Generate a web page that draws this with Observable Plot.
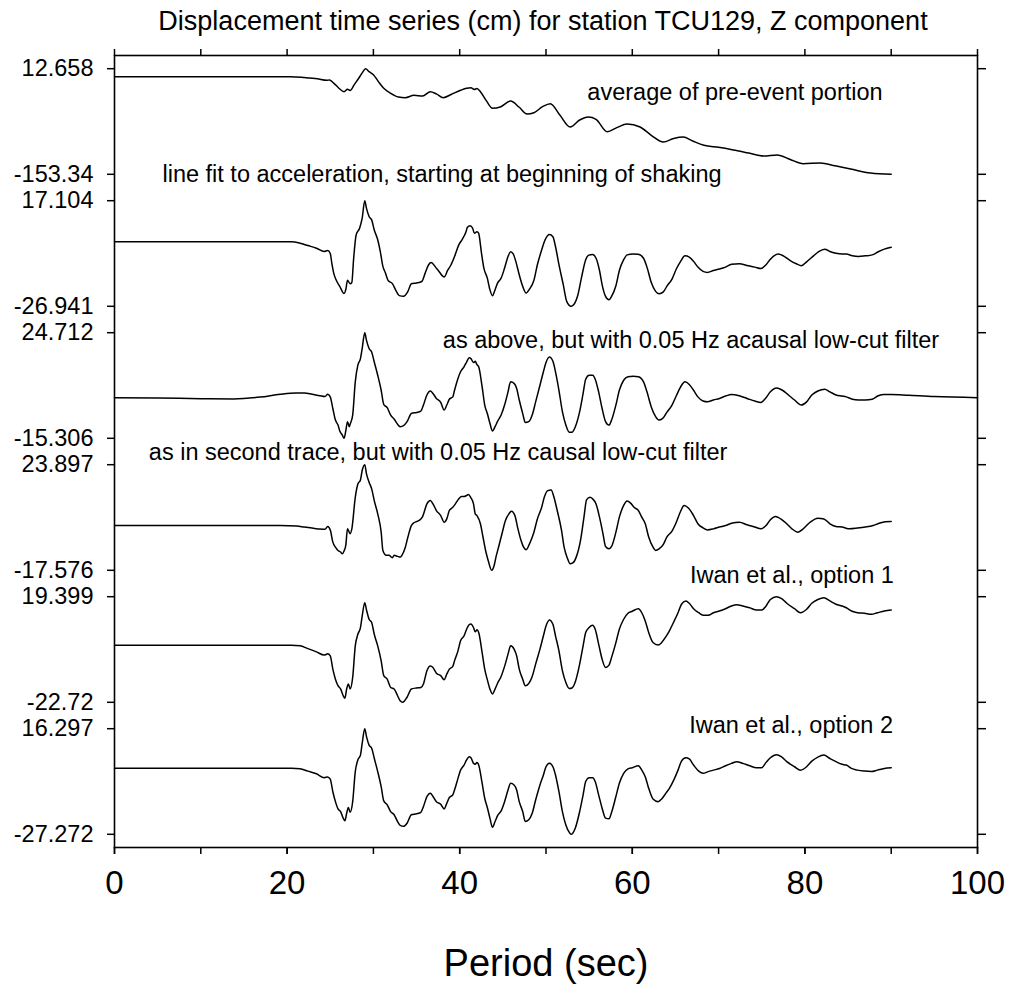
<!DOCTYPE html>
<html>
<head>
<meta charset="utf-8">
<script src="https://cdn.jsdelivr.net/npm/d3@7"></script>
<script src="https://cdn.jsdelivr.net/npm/@observablehq/plot@0.6"></script>
<style>
  html, body { margin: 0; padding: 0; background: #fff; }
</style>
</head>
<body>
<div id="chart"></div>
<script>
// ---- Data (time in sec, displacement in cm) ----
const titleText = "Displacement time series (cm) for station TCU129, Z component";
const xAxisTitle = "Period (sec)";
const traceLabels = [
  "average of pre-event portion",
  "line fit to acceleration, starting at beginning of shaking",
  "as above, but with 0.05 Hz acausal low-cut filter",
  "as in second trace, but with 0.05 Hz causal low-cut filter",
  "Iwan et al., option 1",
  "Iwan et al., option 2"
];
const yMaxLabels = [12.658, 17.104, 24.712, 23.897, 19.399, 16.297];
const yMinLabels = [-153.34, -26.941, -15.306, -17.576, -22.72, -27.272];
const xTicks = [0, 10, 20, 30, 40, 50, 60, 70, 80, 90, 100];
const xLabelTicks = [0, 20, 40, 60, 80, 100];

const trace1 = [[0,0],[10,0],[20.4,0],[22,-1.3],[23.5,-3.2],[24.6,-5.6],[24.9,-5.0],[25.4,-10],[26,-18],[26.6,-23.5],[27.0,-19.7],[27.3,-21.6],[27.8,-12],[28.3,-2.4],[28.7,6],[29.1,12.658],[29.5,8],[30.0,3.3],[30.6,-8],[31.2,-18.1],[32.0,-26],[32.9,-31.8],[33.7,-32.9],[34.7,-29.2],[35.7,-30.3],[36.6,-23.5],[37.3,-27],[38.1,-32.9],[39.0,-28],[40.1,-21.3],[40.8,-18],[41.3,-17.2],[41.7,-20],[42.0,-18.5],[42.4,-23.5],[43.1,-38],[43.8,-49.6],[44.7,-47.6],[45.9,-38.1],[46.9,-48],[47.8,-58.5],[48.6,-56.5],[49.6,-47],[50.5,-42.3],[51.6,-60],[52.8,-79.0],[53.9,-68],[54.9,-63.3],[55.8,-66.9],[57.1,-86.4],[58.2,-80],[59.4,-74.3],[60.9,-79.0],[62.2,-92],[63.6,-102.6],[64.8,-97],[65.9,-94.7],[67.0,-101],[68.3,-107.7],[70.0,-111],[71.7,-115.1],[73.5,-120],[75.2,-124.6],[76.8,-123.0],[78.3,-130],[79.8,-136.7],[81.8,-135.6],[83.5,-140],[85.3,-145.0],[87.6,-151.3],[90,-153.34]];

const trace2 = [[0,0],[10,0],[20.5,0],[21.5,-0.6],[22.4,-1.6],[23.4,-2.7],[24.3,-4.1],[24.7,-3.7],[25.0,-4.9],[25.2,-9.4],[25.4,-13.1],[25.7,-16.1],[26.1,-18.6],[26.6,-21.6],[26.8,-20.0],[27.0,-16.1],[27.3,-17.5],[27.5,-17.0],[27.7,-7.5],[28.0,2.8],[28.4,5.6],[28.7,9.8],[29.0,17.104],[29.2,13.9],[29.5,10.5],[29.8,9.1],[30.1,4.9],[30.5,0.8],[30.8,-4.1],[31.1,-10.3],[31.4,-13.1],[31.7,-16.1],[32.2,-17.5],[32.6,-20.3],[33.0,-22.5],[33.5,-22.8],[34.0,-20.7],[34.4,-17.5],[35.0,-17.2],[35.6,-16.6],[36.0,-13.1],[36.4,-9.6],[36.7,-8.7],[37.2,-10.6],[37.6,-12.4],[38.2,-14.7],[38.6,-12.0],[39.0,-9.6],[39.4,-6.2],[39.9,-1.3],[40.3,1.0],[40.7,3.8],[40.9,6.0],[41.2,6.7],[41.5,5.6],[41.7,3.5],[42.0,4.2],[42.2,3.5],[42.5,-4.1],[42.8,-11.0],[43.2,-15.2],[43.5,-20.0],[43.8,-22.5],[44.1,-20.0],[44.4,-17.2],[44.8,-15.2],[45.2,-11.0],[45.6,-6.2],[45.9,-4.2],[46.2,-5.1],[46.5,-8.2],[46.9,-13.8],[47.3,-18.6],[47.7,-21.4],[48.1,-19.7],[48.6,-16.1],[49.0,-9.6],[49.5,-3.4],[49.9,0.8],[50.4,3.0],[50.8,2.1],[51.1,-2.0],[51.5,-9.6],[52.0,-17.9],[52.4,-24.9],[52.9,-26.941],[53.2,-26.3],[53.7,-22.1],[54.1,-15.2],[54.6,-7.5],[54.9,-5.7],[55.4,-5.3],[55.8,-6.9],[56.2,-12.0],[56.5,-17.9],[56.9,-22.8],[57.3,-24.2],[57.6,-22.8],[58.1,-18.4],[58.5,-12.0],[59.0,-7.5],[59.4,-5.5],[60.1,-5.1],[60.7,-5.2],[61.3,-6.9],[61.7,-10.6],[62.2,-17.0],[62.7,-20.7],[63.1,-21.7],[63.6,-20.9],[64.0,-18.6],[64.6,-15.6],[65.1,-11.4],[65.6,-8.2],[66.1,-5.9],[66.6,-6.4],[67.1,-8.2],[67.6,-10.6],[68.2,-12.4],[68.7,-12.8],[69.4,-12.0],[70.1,-11.4],[70.8,-10.6],[71.5,-9.4],[72.4,-9.2],[73.3,-9.9],[74.2,-10.6],[74.9,-11.2],[75.5,-9.6],[76.0,-7.3],[76.9,-5.1],[77.5,-5.9],[78.3,-7.9],[79.0,-9.2],[79.6,-10.0],[80.2,-8.4],[81.0,-5.9],[81.6,-4.1],[82.3,-3.1],[82.9,-4.1],[83.6,-4.8],[84.3,-5.1],[84.8,-5.1],[85.5,-5.9],[86.2,-6.2],[87.0,-5.9],[87.8,-5.5],[88.5,-4.2],[89.2,-3.1],[90.0,-2.3]];

const trace3 = [[0,0.1],[5,0.0],[10,-0.3],[13.8,-0.4],[16.9,0.3],[19.2,1.4],[21.0,1.9],[22.0,1.9],[22.9,1.4],[23.8,0.8],[24.4,0.5],[24.7,1.4],[25.0,0.4],[25.3,-4.0],[25.6,-8.4],[25.9,-10.3],[26.1,-12.5],[26.4,-14.1],[26.6,-15.306],[26.8,-12.5],[27.0,-9.0],[27.2,-10.9],[27.3,-10.0],[27.6,-6.5],[27.9,6.1],[28.2,12.4],[28.5,14.9],[28.7,18.7],[29.0,24.712],[29.2,21.8],[29.5,18.7],[29.8,17.4],[30.1,13.6],[30.5,8.6],[30.9,2.9],[31.2,-2.5],[31.6,-3.7],[32.0,-6.5],[32.4,-8.0],[32.8,-10.0],[33.1,-10.9],[33.5,-10.5],[33.9,-9.0],[34.4,-5.9],[35.0,-5.5],[35.5,-5.0],[35.8,-2.7],[36.2,1.1],[36.6,2.6],[36.9,1.7],[37.3,-0.2],[37.8,-1.7],[38.2,-4.6],[38.5,-2.7],[38.8,-0.5],[39.2,0.4],[39.4,2.9],[39.8,7.4],[40.1,9.9],[40.5,11.8],[40.8,13.6],[41.1,15.2],[41.3,14.9],[41.6,13.4],[41.8,13.9],[42.0,12.6],[42.2,11.8],[42.6,4.2],[42.9,-2.7],[43.2,-5.9],[43.5,-9.6],[43.8,-12.5],[44.1,-10.9],[44.4,-8.8],[44.8,-6.5],[45.2,-2.7],[45.6,2.3],[45.9,6.1],[46.3,5.5],[46.6,3.6],[46.9,-0.8],[47.3,-5.9],[47.6,-9.3],[48.0,-9.0],[48.4,-6.5],[48.8,-1.5],[49.3,4.8],[49.7,9.9],[50.0,13.4],[50.4,15.5],[50.8,13.9],[51.1,9.9],[51.5,2.9],[51.9,-5.2],[52.3,-10.3],[52.7,-13.0],[53.0,-13.0],[53.4,-10.9],[53.9,-5.2],[54.3,1.7],[54.6,7.1],[55.0,8.6],[55.4,8.6],[55.7,7.1],[56.1,2.3],[56.5,-4.0],[56.9,-9.0],[57.3,-10.3],[57.6,-8.4],[58.1,-2.7],[58.5,2.9],[59.0,6.7],[59.5,8.0],[60.1,8.2],[60.7,8.0],[61.3,6.1],[61.7,2.3],[62.2,-3.4],[62.7,-7.1],[63.1,-8.4],[63.6,-7.5],[64.0,-5.5],[64.6,-2.7],[65.1,0.8],[65.6,4.2],[66.1,6.1],[66.6,5.1],[67.1,2.9],[67.6,0.4],[68.2,-1.2],[68.7,-1.5],[69.4,-0.8],[70.1,-0.2],[70.8,0.7],[71.5,1.3],[72.4,0.8],[73.3,-0.2],[74.2,-1.2],[74.9,-1.7],[75.5,0.1],[76.0,2.3],[76.7,3.8],[77.4,2.9],[78.1,1.1],[78.8,-0.8],[79.6,-2.7],[80.2,-1.5],[80.8,1.1],[81.5,2.6],[82.3,3.3],[82.9,2.3],[83.6,1.1],[84.3,0.7],[84.8,0.4],[85.5,-0.5],[86.2,-0.8],[87.0,-0.8],[87.8,-0.5],[88.5,0.8],[89.2,1.3],[90.0,1.3],[92,1.0],[95,0.5],[100,0.1]];

const trace4 = [[0,0],[10,0],[19.2,0],[21.1,-0.2],[22.0,-0.6],[22.9,-1.0],[23.8,-1.4],[24.4,-1.5],[24.7,-0.4],[25.0,-1.7],[25.3,-6.5],[25.6,-8.5],[25.9,-9.8],[26.2,-10.4],[26.4,-11.1],[26.6,-10.0],[26.8,-7.8],[27.0,-1.3],[27.3,-3.2],[27.5,-1.3],[27.9,11.1],[28.2,16.3],[28.5,17.9],[28.7,21.6],[29.0,23.897],[29.2,20.3],[29.5,17.0],[29.8,14.4],[30.1,9.8],[30.5,4.6],[30.9,-2.6],[31.1,-9.8],[31.5,-11.7],[31.8,-11.7],[32.2,-12.6],[32.4,-11.7],[32.8,-12.1],[33.1,-12.4],[33.3,-11.7],[33.7,-8.5],[34.0,-4.5],[34.4,0.0],[34.8,1.3],[35.3,2.0],[35.7,3.5],[36.2,8.5],[36.6,9.8],[36.9,8.5],[37.3,5.9],[37.8,3.9],[38.2,1.3],[38.5,2.6],[38.8,5.9],[39.2,7.2],[39.5,8.5],[39.9,10.5],[40.2,11.4],[40.5,11.4],[40.8,11.8],[41.0,12.2],[41.3,10.9],[41.6,8.5],[41.8,4.6],[42.0,3.9],[42.4,0.7],[42.7,-4.5],[43.0,-9.8],[43.3,-13.7],[43.7,-17.576],[44.0,-15.6],[44.2,-12.4],[44.5,-8.5],[44.9,-3.2],[45.3,2.0],[45.7,4.6],[46.0,5.6],[46.4,3.9],[46.7,-0.6],[47.1,-5.8],[47.4,-8.5],[47.7,-9.5],[48.1,-7.1],[48.6,-2.6],[49.0,2.6],[49.5,7.2],[49.8,11.1],[50.2,13.7],[50.6,14.0],[50.9,11.4],[51.3,5.9],[51.8,-1.9],[52.1,-8.5],[52.5,-13.0],[52.8,-15.0],[53.1,-14.7],[53.5,-12.4],[54.0,-5.8],[54.4,3.3],[54.7,10.1],[55.1,11.1],[55.4,10.5],[55.8,8.5],[56.2,3.3],[56.6,-3.2],[56.9,-8.2],[57.3,-9.1],[57.6,-8.2],[58.1,-2.6],[58.5,3.3],[59.0,7.9],[59.4,9.6],[59.8,8.8],[60.2,7.2],[60.7,5.9],[61.1,3.3],[61.5,0.7],[61.9,-4.5],[62.4,-8.5],[62.7,-9.8],[63.1,-9.2],[63.6,-7.4],[64.0,-4.5],[64.6,-2.2],[65.1,1.3],[65.6,5.6],[66.0,7.9],[66.5,6.9],[67.1,3.9],[67.6,0.7],[68.2,-0.9],[68.7,-1.7],[69.4,-1.3],[70.1,-0.6],[70.8,0.0],[71.5,0.9],[72.4,1.3],[73.3,0.3],[74.2,-0.6],[74.9,-1.3],[75.5,0.0],[76.0,2.3],[76.6,3.6],[77.2,2.6],[77.9,0.7],[78.5,-1.3],[79.2,-2.6],[79.8,-1.3],[80.6,1.3],[81.5,2.9],[82.2,2.6],[82.9,0.7],[83.6,-0.4],[84.3,-0.6],[85.2,-1.3],[86.1,-1.0],[87.0,-0.6],[87.9,0.0],[88.6,0.9],[89.3,1.5],[90.0,1.6]];

const trace5 = [[0,0],[10,0],[20.5,0],[21.5,-0.2],[22.4,-1.3],[23.4,-2.6],[24.3,-3.9],[24.7,-3.4],[25.0,-4.2],[25.3,-9.5],[25.6,-13.5],[25.9,-16.1],[26.2,-17.4],[26.5,-20.1],[26.7,-21.1],[26.9,-17.4],[27.1,-15.4],[27.3,-17.4],[27.6,-12.8],[27.9,-0.2],[28.2,4.4],[28.5,7.1],[28.7,11.7],[29.0,17.0],[29.2,14.1],[29.5,10.4],[29.8,9.1],[30.1,4.4],[30.5,-0.2],[30.9,-6.2],[31.2,-12.1],[31.6,-13.5],[32.0,-16.8],[32.4,-17.4],[32.8,-20.1],[33.1,-22.1],[33.4,-22.72],[33.9,-20.7],[34.4,-17.4],[35.0,-17.0],[35.5,-16.8],[35.8,-15.4],[36.2,-10.1],[36.6,-8.2],[36.9,-8.8],[37.3,-11.1],[37.8,-12.1],[38.2,-13.7],[38.5,-11.5],[38.8,-9.5],[39.2,-8.4],[39.4,-6.2],[39.8,-2.2],[40.1,1.8],[40.5,3.8],[40.8,6.4],[41.1,8.3],[41.3,8.5],[41.6,7.1],[41.8,5.4],[42.0,6.2],[42.2,5.1],[42.6,-2.9],[42.9,-9.5],[43.2,-13.7],[43.5,-17.4],[43.8,-19.4],[44.1,-17.4],[44.4,-15.0],[44.8,-12.4],[45.2,-8.4],[45.6,-3.5],[45.9,-0.2],[46.3,-1.5],[46.6,-4.2],[46.9,-9.5],[47.3,-13.5],[47.6,-16.1],[48.0,-15.2],[48.4,-12.4],[48.8,-7.5],[49.3,-1.5],[49.7,3.8],[50.0,7.7],[50.4,10.1],[50.8,8.4],[51.1,3.8],[51.5,-2.2],[51.9,-10.1],[52.3,-14.8],[52.7,-17.2],[53.0,-17.0],[53.4,-14.5],[53.9,-7.5],[54.3,-0.2],[54.6,5.1],[55.0,7.1],[55.4,8.0],[55.7,6.4],[56.1,0.5],[56.5,-5.5],[56.9,-8.8],[57.3,-7.9],[57.6,-4.8],[58.1,1.1],[58.5,6.4],[59.0,10.4],[59.5,12.8],[60.0,13.6],[60.7,14.6],[61.1,13.0],[61.5,9.7],[61.9,5.1],[62.4,1.1],[63.0,0.1],[63.4,1.1],[63.9,3.5],[64.3,5.8],[64.8,9.3],[65.3,13.0],[65.7,16.4],[66.2,17.7],[66.6,16.8],[67.1,14.6],[67.7,13.0],[68.2,12.0],[68.8,12.0],[69.4,13.0],[70.1,13.7],[70.8,14.6],[71.5,15.7],[72.1,16.2],[72.8,15.7],[73.6,15.0],[74.4,14.1],[75.0,14.1],[75.5,15.7],[76.0,18.3],[76.7,19.399],[77.3,18.6],[77.9,16.8],[78.8,14.6],[79.5,13.0],[80.2,14.4],[80.8,16.8],[81.5,18.3],[82.2,19.0],[82.9,17.7],[83.6,16.4],[84.3,15.7],[84.8,15.0],[85.4,13.7],[86.1,13.0],[86.9,12.8],[87.7,12.4],[88.4,13.0],[89.2,13.7],[90.0,14.1]];

const trace6 = [[0,0],[10,0],[20.5,0],[21.5,-0.2],[22.4,-1.2],[23.4,-2.3],[24.3,-3.9],[24.7,-3.6],[25.0,-4.5],[25.3,-9.7],[25.6,-13.8],[25.9,-16.8],[26.2,-17.9],[26.5,-20.6],[26.7,-21.7],[26.9,-18.6],[27.1,-16.2],[27.3,-18.2],[27.6,-13.8],[27.9,-1.4],[28.2,3.4],[28.5,5.4],[28.7,10.2],[29.0,16.297],[29.2,13.0],[29.5,9.5],[29.8,8.2],[30.1,4.1],[30.5,-1.4],[30.9,-7.6],[31.2,-13.5],[31.6,-15.1],[32.0,-17.9],[32.4,-19.2],[32.8,-22.0],[33.1,-23.6],[33.5,-24.0],[33.9,-22.7],[34.4,-19.2],[35.0,-18.8],[35.5,-18.2],[35.8,-15.8],[36.2,-11.7],[36.6,-10.3],[36.9,-11.7],[37.3,-13.8],[37.8,-14.9],[38.2,-16.8],[38.5,-14.5],[38.8,-12.1],[39.2,-11.0],[39.4,-9.0],[39.8,-4.2],[40.1,-0.8],[40.5,1.3],[40.8,3.4],[41.1,4.7],[41.3,4.3],[41.6,2.0],[41.8,1.6],[42.0,2.4],[42.2,1.3],[42.6,-6.2],[42.9,-12.4],[43.2,-16.2],[43.5,-20.6],[43.8,-24.4],[44.1,-22.0],[44.4,-19.5],[44.8,-17.6],[45.2,-13.8],[45.6,-9.0],[45.9,-6.2],[46.3,-6.9],[46.6,-9.0],[46.9,-13.8],[47.3,-17.9],[47.6,-22.0],[48.0,-21.3],[48.4,-18.6],[48.8,-13.1],[49.3,-6.9],[49.7,-2.8],[50.0,0.6],[50.4,2.0],[50.8,0.6],[51.1,-2.8],[51.5,-9.7],[51.9,-17.9],[52.3,-23.4],[52.7,-26.5],[52.9,-27.272],[53.1,-26.8],[53.4,-24.7],[53.9,-17.9],[54.3,-11.0],[54.6,-5.5],[55.0,-3.9],[55.4,-3.9],[55.7,-5.5],[56.1,-11.0],[56.5,-16.5],[56.9,-20.6],[57.3,-20.9],[57.6,-18.2],[58.1,-11.7],[58.5,-6.2],[59.0,-2.1],[59.5,-0.3],[60.0,0.2],[60.7,1.0],[61.1,-0.8],[61.5,-3.5],[61.9,-8.3],[62.4,-12.7],[63.0,-13.8],[63.4,-12.7],[63.9,-10.3],[64.3,-8.3],[64.8,-4.9],[65.3,-0.8],[65.7,2.9],[66.2,4.3],[66.6,3.8],[67.1,1.3],[67.7,-1.2],[68.2,-2.1],[68.8,-1.4],[69.4,-0.8],[70.1,-0.1],[70.8,1.0],[71.5,2.0],[72.1,2.7],[72.8,2.0],[73.6,1.0],[74.4,0.2],[75.0,0.2],[75.5,2.4],[76.0,4.3],[76.7,5.6],[77.3,4.7],[77.9,2.7],[78.8,0.6],[79.5,-0.8],[80.2,0.6],[80.8,2.9],[81.5,4.6],[82.2,5.4],[82.9,4.0],[83.6,2.7],[84.3,1.6],[84.8,1.3],[85.4,-0.1],[86.1,-0.8],[86.9,-1.2],[87.7,-1.4],[88.4,-0.8],[89.2,-0.1],[90.0,0.2]];

// ---- Layout (not data) ----
const traces = [trace1, trace2, trace3, trace4, trace5, trace6];
const nBands = traces.length;
// annotation anchor: [time, band position]
const labelAnchor = [[71.9, 5.717], [37.95, 5.10], [66.8, 3.844], [37.5, 2.992], [78.5, 2.064], [78.4, 0.922]];

// each trace is scaled into its own band (80% of band height, min..max)
const rows = traces.flatMap((tr, i) => {
  const k = nBands - 1 - i, lo = yMinLabels[i], hi = yMaxLabels[i];
  return tr.map(([t, v]) => ({t, u: k + 0.1 + 0.8 * (v - lo) / (hi - lo), id: i}));
});
const tickPos = [];
const tickText = new Map();
yMaxLabels.forEach((hi, i) => {
  const k = nBands - 1 - i;
  tickPos.push(k + 0.9, k + 0.1);
  tickText.set(k + 0.9, String(hi));
  tickText.set(k + 0.1, String(yMinLabels[i]));
});

const chart = Plot.plot({
  width: 1011,
  height: 984,
  marginLeft: 114,
  marginRight: 34,
  marginTop: 55,
  marginBottom: 137,
  style: {fontFamily: "'Liberation Sans', Arial, Helvetica, sans-serif", background: "white", color: "black", overflow: "visible"},
  x: {domain: [0, 100]},
  y: {domain: [0, nBands]},
  marks: [
    Plot.axisX({anchor: "bottom", ticks: xLabelTicks, tickSize: 7, tickPadding: 16, fontSize: 33, strokeWidth: 1.5, label: null, tickFormat: d => String(d)}),
    Plot.axisX({anchor: "bottom", ticks: xTicks, tickSize: 7, strokeWidth: 1.5, label: null, tickFormat: () => ""}),
    Plot.axisX({anchor: "top", ticks: xTicks, tickSize: 7, strokeWidth: 1.5, label: null, tickFormat: () => ""}),
    Plot.axisY({anchor: "left", ticks: tickPos, tickSize: 7, tickPadding: 14, fontSize: 23.5, strokeWidth: 1.5, label: null, tickFormat: d => tickText.get(d)}),
    Plot.axisY({anchor: "right", ticks: tickPos, tickSize: 8, strokeWidth: 1.5, label: null, tickFormat: () => ""}),
    Plot.frame({stroke: "black", strokeWidth: 1.6}),
    Plot.line(rows, {x: "t", y: "u", z: "id", stroke: "black", strokeWidth: 1.5, curve: "monotone-x"}),
    Plot.text(traceLabels, {
      x: (d, i) => labelAnchor[i][0],
      y: (d, i) => labelAnchor[i][1],
      text: d => d,
      fontSize: 23.5,
      textAnchor: "middle",
      lineAnchor: "middle",
      fill: "black"
    }),
    Plot.text([titleText], {frameAnchor: "top", dy: -34, dx: -3, text: d => d, fontSize: 27, lineAnchor: "middle", fill: "black"}),
    Plot.text([xAxisTitle], {frameAnchor: "bottom", dy: 116, text: d => d, fontSize: 38, lineAnchor: "middle", fill: "black"})
  ]
});
document.getElementById("chart").appendChild(chart);
</script>
</body>
</html>
